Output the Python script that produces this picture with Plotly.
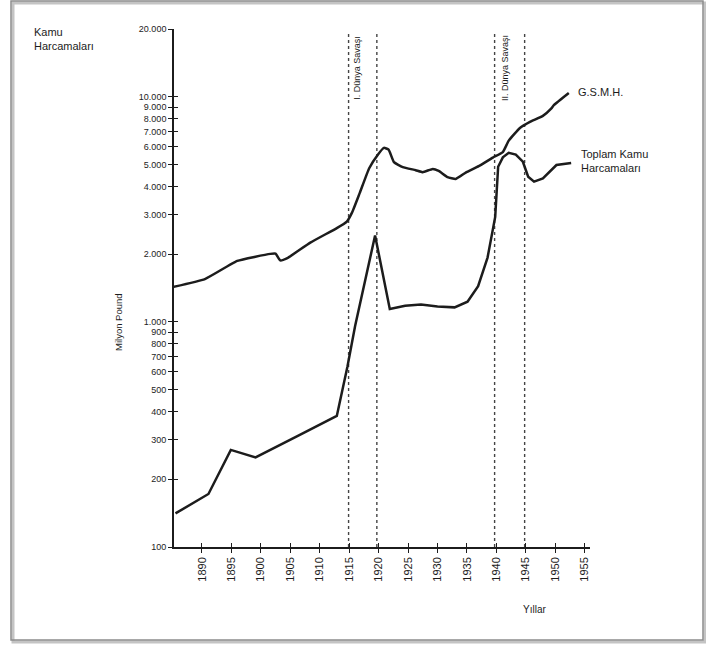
import math
import plotly.graph_objects as go

# GSMH (gross national product), million pounds
gsmh_years = [1885.1, 1890.5, 1896.0, 1901.6, 1902.5, 1903.3, 1904.5, 1908.4, 1912.9,
              1914.6, 1915.5, 1916.8, 1918.4, 1919.9, 1920.9, 1921.7, 1922.6, 1924.1,
              1926.3, 1927.5, 1929.2, 1930.2, 1931.7, 1933.1, 1934.8, 1937.0, 1939.4,
              1941.1, 1942.1, 1944.0, 1945.7, 1947.9, 1949.3, 1949.8, 1952.3]
gsmh_values = [1430, 1550, 1865, 2005, 2010, 1875, 1920, 2250, 2610,
               2790, 3065, 3740, 4815, 5545, 5930, 5820, 5125, 4870,
               4720, 4625, 4780, 4685, 4400, 4315, 4605, 4915, 5370,
               5680, 6385, 7265, 7740, 8225, 8860, 9205, 10400]

# Total public expenditure, million pounds
kamu_years = [1885.5, 1891.1, 1894.9, 1899.1, 1906.2, 1912.9, 1914.7, 1916.0, 1919.4,
              1921.9, 1924.5, 1927.2, 1930.0, 1932.9, 1935.1, 1936.9, 1938.5, 1939.8,
              1940.3, 1941.1, 1942.1, 1943.3, 1944.5, 1945.4, 1946.4, 1947.9, 1950.2,
              1952.7]
kamu_values = [141, 172, 270, 250, 311, 382, 632, 957, 2420,
               1140, 1180, 1195, 1170, 1160, 1230, 1440, 1930, 2925,
               4890, 5380, 5635, 5535, 5145, 4415, 4195, 4335, 4975,
               5080]

# War periods
war_bounds = [(1914.9, 1919.7), (1939.7, 1944.8)]
war_labels = ["I. Dünya Savaşı", "II. Dünya Savaşı"]

x_ticks = list(range(1890, 1960, 5))
y_ticks = [100, 200, 300, 400, 500, 600, 700, 800, 900,
           1000, 2000, 3000, 4000, 5000, 6000, 7000, 8000, 9000, 10000, 20000]
y_tick_text = [f"{v:,}".replace(",", ".") for v in y_ticks]

X_RANGE = [1885.25, 1955.9]
Y_RANGE = [2, math.log10(20000)]

# plot-area geometry in pixels (used for paper-referenced decorations)
L, R, T, B = 174, 116, 29, 98
W, H = 706, 645
PW, PH = W - L - R, H - T - B


def px(x):
    return (x - L) / PW


def py(y):
    return (H - B - y) / PH


INK = "#1c1c1c"
FONT = "Liberation Sans, Arial, sans-serif"

fig = go.Figure()

for (a, b) in war_bounds:
    for xv in (a, b):
        fig.add_trace(go.Scatter(
            x=[xv, xv], y=[100, 19500], mode="lines",
            line=dict(color="#444444", width=1.4, dash="dot"),
            hoverinfo="skip", showlegend=False))

fig.add_trace(go.Scatter(
    x=gsmh_years, y=gsmh_values, mode="lines", name="G.S.M.H.",
    line=dict(color=INK, width=2.5, shape="spline", smoothing=0.4),
    showlegend=False))
fig.add_trace(go.Scatter(
    x=kamu_years, y=kamu_values, mode="lines", name="Toplam Kamu Harcamaları",
    line=dict(color=INK, width=2.5),
    showlegend=False))

# invisible trace carrying the overlay axes that draw the inner half of each tick
fig.add_trace(go.Scatter(
    x=[1890], y=[100], xaxis="x2", yaxis="y2", mode="markers",
    marker=dict(opacity=0), hoverinfo="skip", showlegend=False))

annotations = []
for (a, b), lab, xc in zip(war_bounds, war_labels, [1916.3, 1941.5]):
    annotations.append(dict(
        x=xc, y=0.925, xref="x", yref="paper", text=lab, showarrow=False,
        textangle=-90, font=dict(size=9, color=INK, family=FONT),
        xanchor="center", yanchor="middle"))

annotations += [
    dict(x=1953.6, y=math.log10(gsmh_values[-1]) + 0.005, xref="x", yref="y",
         text="G.S.M.H.", showarrow=False, xanchor="left", yanchor="middle",
         font=dict(size=11, color=INK, family=FONT)),
    dict(x=1954.0, y=math.log10(kamu_values[-1]), xref="x", yref="y",
         text="Toplam Kamu<br>Harcamaları", showarrow=False, xanchor="left",
         yanchor="middle", align="left", yshift=2,
         font=dict(size=11, color=INK, family=FONT)),
    dict(x=px(32), y=py(24), xref="paper", yref="paper",
         text="Kamu<br>Harcamaları", showarrow=False, xanchor="left",
         yanchor="top", align="left",
         font=dict(size=11, color=INK, family=FONT)),
    dict(x=px(118), y=py(322), xref="paper", yref="paper",
         text="Milyon Pound", showarrow=False, textangle=-90,
         xanchor="center", yanchor="middle",
         font=dict(size=9.5, color=INK, family=FONT)),
    dict(x=px(534), y=py(609), xref="paper", yref="paper",
         text="Yıllar", showarrow=False, xanchor="center", yanchor="middle",
         font=dict(size=10, color=INK, family=FONT)),
]

shapes = [
    # page frame with a soft shadow on the lower/right edges
    dict(type="rect", xref="paper", yref="paper",
         x0=px(13), x1=px(705), y0=py(642), y1=py(3),
         line=dict(color="#c4c4c4", width=3)),
    dict(type="rect", xref="paper", yref="paper",
         x0=px(11), x1=px(703), y0=py(640), y1=py(1),
         line=dict(color="#8c8c8c", width=1.5)),
]

axis_common = dict(showgrid=False, zeroline=False)

fig.update_layout(
    width=W, height=H,
    margin=dict(l=L, r=R, t=T, b=B),
    paper_bgcolor="white", plot_bgcolor="white",
    font=dict(family=FONT, color=INK),
    xaxis=dict(range=X_RANGE, tickvals=x_ticks, ticktext=[str(v) for v in x_ticks],
               tickangle=-90, ticks="outside", ticklen=4, tickwidth=1.3,
               tickcolor=INK, showline=True, linecolor=INK, linewidth=1.6,
               tickfont=dict(size=11, color=INK), **axis_common),
    yaxis=dict(type="log", range=Y_RANGE, tickvals=y_ticks, ticktext=y_tick_text,
               ticks="outside", ticklen=4, tickwidth=1.3, tickcolor=INK,
               showline=True, linecolor=INK, linewidth=1.6,
               tickfont=dict(size=9, color=INK), **axis_common),
    xaxis2=dict(overlaying="x", anchor="y2", side="bottom", range=X_RANGE,
                tickvals=x_ticks, ticks="inside", ticklen=4, tickwidth=1.3,
                tickcolor=INK, showticklabels=False, showline=False,
                **axis_common),
    yaxis2=dict(overlaying="y", anchor="x2", side="left", type="log",
                range=Y_RANGE, tickvals=y_ticks, ticks="inside", ticklen=4,
                tickwidth=1.3, tickcolor=INK, showticklabels=False,
                showline=False, **axis_common),
    annotations=annotations,
    shapes=shapes,
)

fig.write_html("out.html")
